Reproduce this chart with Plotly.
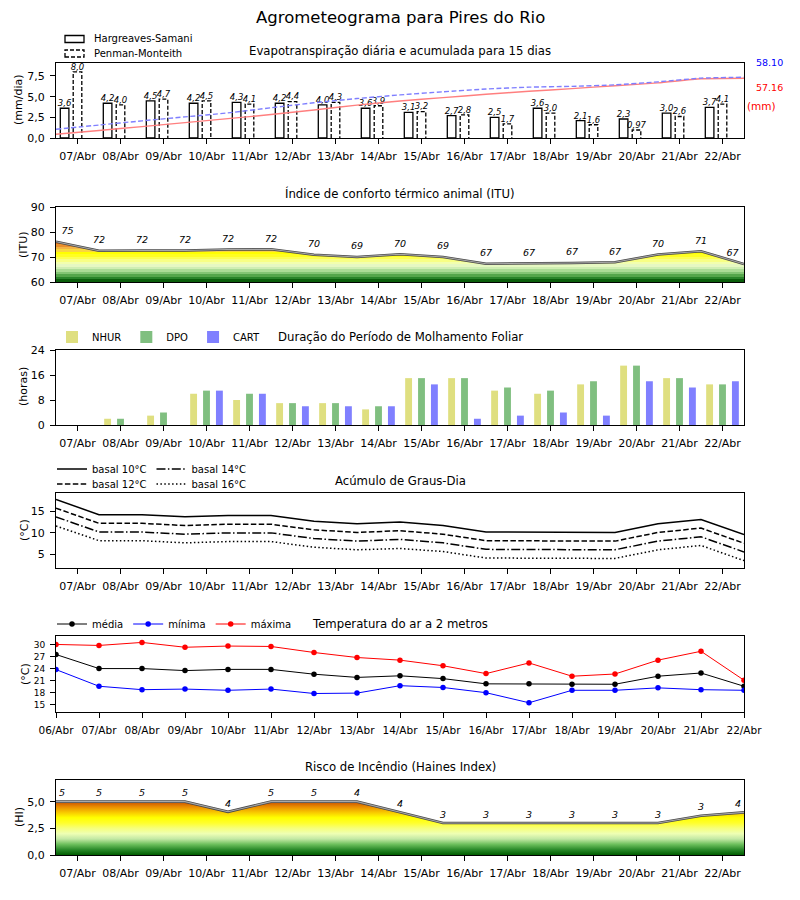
import plotly.graph_objects as go

FONT = "DejaVu Sans"

# ---------------- data ----------------
dias = ['06/Abr', '07/Abr', '08/Abr', '09/Abr', '10/Abr', '11/Abr', '12/Abr', '13/Abr',
        '14/Abr', '15/Abr', '16/Abr', '17/Abr', '18/Abr', '19/Abr', '20/Abr', '21/Abr', '22/Abr']

# Evapotranspiração diária (mm/dia)
et_hs = [3.6, 4.2, 4.5, 4.2, 4.3, 4.2, 4.0, 3.6, 3.1, 2.7, 2.5, 3.6, 2.1, 2.3, 3.0, 3.7]
et_pm = [8.0, 4.0, 4.7, 4.5, 4.1, 4.4, 4.3, 3.9, 3.2, 2.8, 1.7, 3.0, 1.6, 0.97, 2.6, 4.1]
# Evapotranspiração acumulada (mm)
acum_hs = [3.6, 7.2, 10.9, 14.7, 18.5, 22.4, 26.8, 31.4, 35.4, 38.6, 41.8, 44.7, 47.2, 50.0, 52.7, 56.6, 57.16]
acum_pm = [8.3, 12.4, 16.4, 20.2, 24.0, 28.9, 33.7, 37.7, 41.2, 44.2, 46.8, 48.6, 49.4, 50.8, 53.7, 57.2, 58.10]

# ITU
itu = [76.1, 72.5, 72.6, 72.6, 73.0, 73.1, 70.9, 70.0, 71.1, 70.0, 67.3, 67.3, 67.6, 67.9, 71.0, 72.3, 67.2]
itu_rot = ['75', '72', '72', '72', '72', '72', '70', '69', '70', '69', '67', '67', '67', '67', '70', '71', '67']

# Molhamento foliar (horas)
nhur = [0, 2, 3, 10, 8, 7, 7, 5, 15, 15, 11, 10, 13, 19, 15, 13]
dpo = [0, 2, 4, 11, 10, 7, 7, 6, 15, 15, 12, 11, 14, 19, 15, 13]
cart = [0, 0, 0, 11, 10, 6, 6, 6, 13, 2, 3, 4, 3, 14, 12, 14]

# Graus-dia (°C)
gd10 = [17.7, 14.2, 14.2, 13.7, 14.0, 14.0, 12.7, 12.1, 12.5, 11.7, 10.2, 10.2, 10.1, 10.1, 12.1, 13.1, 9.6]
gd12 = [15.7, 12.2, 12.2, 11.7, 12.0, 12.0, 10.7, 10.1, 10.5, 9.7, 8.2, 8.2, 8.1, 8.1, 10.1, 11.1, 7.6]
gd14 = [13.7, 10.2, 10.2, 9.7, 10.0, 10.0, 8.7, 8.1, 8.5, 7.7, 6.2, 6.2, 6.1, 6.1, 8.1, 9.1, 5.6]
gd16 = [11.6, 8.2, 8.2, 7.7, 8.0, 8.0, 6.7, 6.1, 6.4, 5.7, 4.2, 4.2, 4.1, 4.1, 6.1, 7.1, 3.6]

# Temperatura (°C)
t_med = [27.5, 24.0, 24.0, 23.5, 23.8, 23.8, 22.6, 21.8, 22.2, 21.5, 20.2, 20.2, 20.1, 20.1, 22.1, 22.9, 19.6]
t_min = [23.75, 19.6, 18.75, 18.9, 18.6, 18.9, 17.8, 17.9, 19.75, 19.3, 18.0, 15.5, 18.6, 18.6, 19.2, 18.75, 18.6]
t_max = [30.0, 29.75, 30.5, 29.3, 29.6, 29.5, 28.0, 26.75, 26.1, 24.7, 22.75, 25.4, 22.1, 22.65, 26.1, 28.3, 21.1]

# Haines
haines = [5.0, 5.0, 5.0, 5.0, 4.05, 5.0, 5.0, 5.0, 4.0, 3.0, 3.0, 3.0, 3.0, 3.0, 3.0, 3.68, 4.0]
haines_rot = ['5', '5', '5', '5', '4', '5', '5', '4', '4', '3', '3', '3', '3', '3', '3', '3', '4']

# ---------------- styles ----------------
ITU_COLORS = ['#0b5e0b', '#2a842a', '#55a64b', '#84c574', '#acdc96', '#cfeeb3', '#e6f8c2',
              '#f2ffae', '#f8ff84', '#fdff52', '#ffff22', '#ffff00', '#f9d640', '#f2b444',
              '#e98f2e', '#e07014', '#d65e08']
HAINES_CS = [[0.0, '#005c00'], [0.1, '#2a8a2a'], [0.2, '#6cbf5c'], [0.3, '#c2e8a4'],
             [0.4, '#eeffb4'], [0.5, '#f6ff7c'], [0.6, '#ffff2c'], [0.7, '#ffff00'],
             [0.8, '#f8c800'], [0.9, '#ea8e00'], [1.0, '#c85000']]

# The page body adds an 8 px margin; positions below are given in page pixels.
OFF = 8
W, H = 800 - 2 * OFF, 900 - 2 * OFF
def py(px):
    return 1 - (px - OFF) / H
def pxx(px):
    return (px - OFF) / W

panels = [(63, 138), (207, 282), (350, 425), (493, 568), (636, 712), (780, 855)]

t17 = list(range(len(dias)))
dpos = [i + 0.5 for i in range(len(dias) - 1)]
dlab = dias[1:]

def fmt(v):
    s = f"{v:.1f}" if v >= 1 else f"{v:.2f}"
    return s.replace('.', ',')

fig = go.Figure()

# ---------------- Panel 1 ----------------
bw = 0.2
hs_x = [x - 0.3 for x in dpos]
fig.add_trace(go.Bar(x=hs_x, y=et_hs, width=bw, marker=dict(color='white', line=dict(color='black', width=1.3)),
                     showlegend=False, xaxis='x', yaxis='y'))
fig.add_trace(go.Bar(x=dpos, y=et_pm, width=bw, marker=dict(color='white', line=dict(width=0)),
                     showlegend=False, xaxis='x', yaxis='y'))
pm_x, pm_y = [], []
for xc, v in zip(dpos, et_pm):
    pm_x += [xc - bw / 2, xc - bw / 2, xc + bw / 2, xc + bw / 2, None]
    pm_y += [0, v, v, 0, None]
fig.add_trace(go.Scatter(x=pm_x, y=pm_y, mode='lines', line=dict(color='black', width=1.3, dash='4px,2px'),
                         showlegend=False, xaxis='x', yaxis='y'))
fig.add_trace(go.Scatter(x=hs_x, y=et_hs, mode='text', text=[fmt(v) for v in et_hs], textposition='top center',
                         textfont=dict(family=FONT, size=8.5, color='black', style='italic'),
                         cliponaxis=False, showlegend=False, xaxis='x', yaxis='y'))
fig.add_trace(go.Scatter(x=dpos, y=et_pm, mode='text', text=[fmt(v) for v in et_pm], textposition='top center',
                         textfont=dict(family=FONT, size=8.5, color='black', style='italic'),
                         cliponaxis=False, showlegend=False, xaxis='x', yaxis='y'))
fig.add_trace(go.Scatter(x=t17, y=acum_hs, mode='lines', line=dict(color='#ff7f7f', width=1.4, shape='spline', smoothing=0.6),
                         showlegend=False, xaxis='x', yaxis='y7'))
fig.add_trace(go.Scatter(x=t17, y=acum_pm, mode='lines', line=dict(color='#7f7fff', width=1.4, dash='5px,2.5px', shape='spline', smoothing=0.6),
                         showlegend=False, xaxis='x', yaxis='y7'))

# ---------------- Panel 2 (ITU) ----------------
n = len(ITU_COLORS)
itu_cs = []
for i, c in enumerate(ITU_COLORS):
    itu_cs += [[i / n, c], [(i + 1) / n, c]]
fig.add_trace(go.Scatter(x=t17, y=itu, mode='lines', fill='tozeroy',
                         fillgradient=dict(type='vertical', colorscale=itu_cs, start=60, stop=60 + n),
                         line=dict(color='#4a4a4a', width=2.6), showlegend=False, xaxis='x2', yaxis='y2'))
fig.add_trace(go.Scatter(x=t17, y=itu, mode='lines', line=dict(color='#a8a8a8', width=1.1),
                         showlegend=False, xaxis='x2', yaxis='y2'))
pos = ['top right'] + ['top center'] * (len(t17) - 2) + ['top left']
fig.add_trace(go.Scatter(x=t17, y=itu, mode='markers+text', text=itu_rot, textposition=pos,
                         marker=dict(size=7, color='rgba(0,0,0,0)'),
                         textfont=dict(family=FONT, size=9.5, color='black', style='italic'),
                         cliponaxis=False, showlegend=False, xaxis='x2', yaxis='y2'))

# ---------------- Panel 3 (Molhamento) ----------------
bw3 = 0.16
for name, vals, off, col in [('NHUR', nhur, -0.3, '#dfdf80'), ('DPO', dpo, 0.0, '#80bf80'), ('CART', cart, 0.3, '#8080ff')]:
    fig.add_trace(go.Bar(x=[x + off for x in dpos], y=vals, width=bw3, name=name, marker=dict(color=col, line=dict(width=0)),
                         xaxis='x3', yaxis='y3', legend='legend'))

# ---------------- Panel 4 (Graus-dia) ----------------
for name, vals, dash, lg in [('basal 10°C', gd10, 'solid', 'legend2'), ('basal 14°C', gd14, '9px,2.4px,1.5px,2.4px', 'legend2'),
                             ('basal 12°C', gd12, '5.5px,2.4px', 'legend3'), ('basal 16°C', gd16, '1.5px,2.4px', 'legend3')]:
    fig.add_trace(go.Scatter(x=t17, y=vals, mode='lines', name=name, line=dict(color='black', width=1.5, dash=dash),
                             xaxis='x4', yaxis='y4', legend=lg))

# ---------------- Panel 5 (Temperatura) ----------------
for name, vals, col in [('média', t_med, 'black'), ('mínima', t_min, 'blue'), ('máxima', t_max, 'red')]:
    fig.add_trace(go.Scatter(x=t17, y=vals, mode='lines+markers', name=name,
                             line=dict(color=col, width=1), marker=dict(color=col, size=5.5),
                             xaxis='x5', yaxis='y5', legend='legend4'))

# ---------------- Panel 6 (Haines) ----------------
fig.add_trace(go.Scatter(x=t17, y=haines, mode='lines', fill='tozeroy',
                         fillgradient=dict(type='vertical', colorscale=HAINES_CS, start=0, stop=5),
                         line=dict(color='#4a4a4a', width=2.6), showlegend=False, xaxis='x6', yaxis='y6'))
fig.add_trace(go.Scatter(x=t17, y=haines, mode='lines', line=dict(color='#a8a8a8', width=1.1),
                         showlegend=False, xaxis='x6', yaxis='y6'))
fig.add_trace(go.Scatter(x=t17, y=haines, mode='markers+text', text=haines_rot, textposition=pos,
                         marker=dict(size=3, color='rgba(0,0,0,0)'),
                         textfont=dict(family=FONT, size=9.5, color='black', style='italic'),
                         cliponaxis=False, showlegend=False, xaxis='x6', yaxis='y6'))

# ---------------- axes ----------------
def xaxis(anchor, tv, tt, size=11):
    return dict(domain=[pxx(56), pxx(744)], range=[0, 16], anchor=anchor, tickvals=tv, ticktext=tt,
                ticks='outside', ticklen=5, tickwidth=1, tickcolor='black', ticklabelstandoff=3,
                showline=True, linecolor='black', linewidth=1, mirror=True, showgrid=False, zeroline=False,
                automargin=False, tickfont=dict(family=FONT, size=size, color='black'))

def yaxis(anchor, top, bot, rng, tv, tt=None, size=11):
    d = dict(domain=[py(bot), py(top)], range=rng, anchor=anchor, tickvals=tv,
             ticks='outside', ticklen=5, tickwidth=1, tickcolor='black', ticklabelstandoff=3,
             showline=True, linecolor='black', linewidth=1, mirror=True, showgrid=False, zeroline=False,
             automargin=False, tickfont=dict(family=FONT, size=size, color='black'))
    if tt is not None:
        d['ticktext'] = tt
    return d

def legend(y):
    return dict(x=pxx(52), y=py(y), xanchor='left', yanchor='middle', orientation='h',
                font=dict(family=FONT, size=10), bgcolor='rgba(0,0,0,0)')

layout = dict(
    width=W, height=H, margin=dict(l=0, r=0, t=0, b=0, autoexpand=False),
    paper_bgcolor='white', plot_bgcolor='white', barmode='overlay',
    font=dict(family=FONT, color='black'),
    xaxis=xaxis('y', dpos, dlab),
    xaxis2=xaxis('y2', dpos, dlab),
    xaxis3=xaxis('y3', dpos, dlab),
    xaxis4=xaxis('y4', dpos, dlab),
    xaxis5=xaxis('y5', t17, dias, size=10.5),
    xaxis6=xaxis('y6', dpos, dlab),
    yaxis=yaxis('x', *panels[0], [0, 9.07], [0, 2.5, 5, 7.5], ['0,0', '2,5', '5,0', '7,5']),
    yaxis2=yaxis('x2', *panels[1], [60, 90], [60, 70, 80, 90]),
    yaxis3=yaxis('x3', *panels[2], [0, 24], [0, 8, 16, 24]),
    yaxis4=yaxis('x4', *panels[3], [1.9, 19.2], [5, 10, 15]),
    yaxis5=yaxis('x5', *panels[4], [13.2, 32.1], [15, 18, 21, 24, 27, 30], size=9),
    yaxis6=yaxis('x6', *panels[5], [0, 7.03], [0, 2.5, 5], ['0,0', '2,5', '5,0']),
    yaxis7=dict(overlaying='y', anchor='x', range=[0, 71.7], visible=False, side='right', automargin=False),
    legend=legend(337),
    legend2=legend(469),
    legend3=legend(484),
    legend4=legend(624),
)
fig.update_layout(**layout)

ann = []
def text(x, y, s, size=12, color='black', xanchor='center', angle=0):
    ann.append(dict(x=pxx(x), y=py(y), xref='paper', yref='paper', text=s, showarrow=False,
                    xanchor=xanchor, yanchor='middle', textangle=angle,
                    font=dict(family=FONT, size=size, color=color)))

text(400, 18, 'Agrometeograma para Pires do Rio', size=16.5)
text(400, 51, 'Evapotranspiração diária e acumulada para 15 dias', size=11.7)
text(400, 193, 'Índice de conforto térmico animal (ITU)', size=11.7)
text(400, 337, 'Duração do Período de Molhamento Foliar', size=11.7)
text(400, 481, 'Acúmulo de Graus-Dia', size=11.7)
text(400, 624, 'Temperatura do ar a 2 metros', size=11.7)
text(400, 767, 'Risco de Incêndio (Haines Index)', size=11.7)

text(19, 100, '(mm/dia)', size=11, angle=-90)
text(24, 244, '(ITU)', size=11, angle=-90)
text(23, 387, '(horas)', size=11, angle=-90)
text(24, 530, '(°C)', size=11, angle=-90)
text(25, 674, '(°C)', size=11, angle=-90)
text(19, 817, '(HI)', size=11, angle=-90)

text(769, 62, f"{acum_pm[-1]:.2f}", size=9.5, color='blue')
text(769, 87, f"{acum_hs[-1]:.2f}", size=9.5, color='red')
text(761, 105.5, '(mm)', size=10.5, color='red')

# manual legend panel 1
text(92, 39, 'Hargreaves-Samani', size=10, xanchor='left')
text(92, 53.5, 'Penman-Monteith', size=10, xanchor='left')
fig.update_layout(annotations=ann)
fig.add_shape(type='rect', xref='paper', yref='paper', x0=pxx(65), x1=pxx(84), y0=py(42.5), y1=py(35.5),
              line=dict(color='black', width=1.3), fillcolor='white')
fig.add_shape(type='rect', xref='paper', yref='paper', x0=pxx(65), x1=pxx(84), y0=py(57), y1=py(50),
              line=dict(color='black', width=1.3, dash='4px,2px'), fillcolor='white')

fig.write_html("out.html")
